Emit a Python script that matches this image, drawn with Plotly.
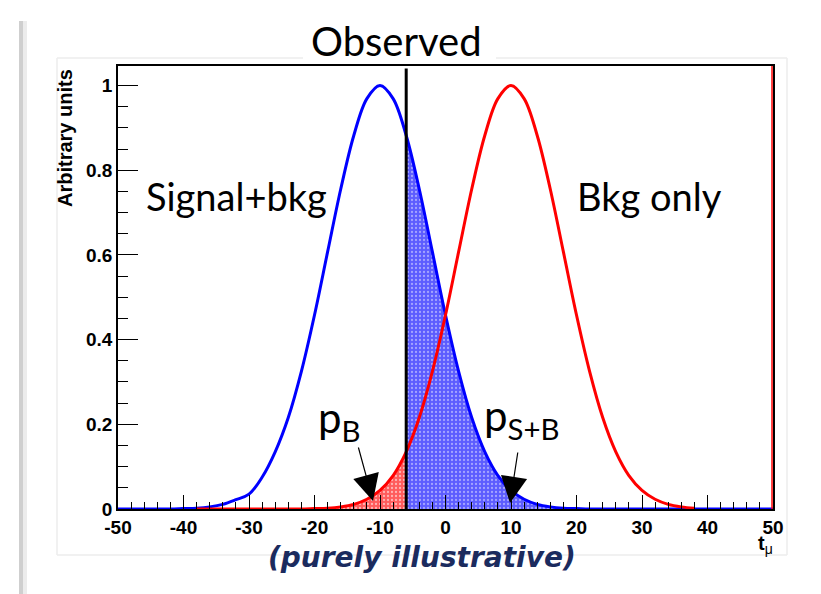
import plotly.graph_objects as go

# ---------------- data ----------------
x_grid = [-50, -48, -46, -44, -42, -40, -38, -36, -34, -32, -30, -28, -26, -24, -22, -20,
          -18, -16, -14, -12, -10, -8, -6, -4, -2, 0, 2, 4, 6, 8, 10, 12, 14, 16, 18, 20,
          22, 24, 26, 28, 30, 32, 34, 36, 38, 40, 42, 44, 46, 48, 50]
signal_bkg = [0.0, 0.0, 0.0, 0.0, 0.0, 0.001, 0.002, 0.005, 0.011, 0.022, 0.035, 0.075, 0.135,
              0.216, 0.325, 0.458, 0.607, 0.755, 0.882, 0.969, 1.0, 0.969, 0.882, 0.755, 0.607,
              0.458, 0.325, 0.216, 0.135, 0.079, 0.044, 0.023, 0.011, 0.005, 0.002, 0.001,
              0.0, 0.0, 0.0, 0.0, 0.0, 0.0, 0.0, 0.0, 0.0, 0.0, 0.0, 0.0, 0.0, 0.0, 0.0]
red_x = [-38, -36, -34, -32, -30, -28, -26, -24, -22, -20, -18, -16, -14, -12, -10, -8, -6,
         -4, -2, 0, 2, 4, 6, 8, 10, 12, 14, 16, 18, 20, 22, 24, 26, 28, 30, 32, 34, 36, 38]
bkg_only = [0.0, 0.0, 0.0, 0.0, 0.0, 0.0, 0.0, 0.0, 0.0, 0.001, 0.002, 0.005, 0.011, 0.023,
            0.044, 0.079, 0.135, 0.216, 0.325, 0.458, 0.607, 0.755, 0.882, 0.969, 1.0, 0.969,
            0.882, 0.755, 0.607, 0.458, 0.325, 0.216, 0.135, 0.079, 0.044, 0.023, 0.011,
            0.005, 0.002]
observed = -6
x_ticks = [-50, -40, -30, -20, -10, 0, 10, 20, 30, 40, 50]
x_tick_text = ["-50", "-40", "-30", "-20", "-10", "0", "10", "20", "30", "40", "50"]
y_ticks = [0, 0.2, 0.4, 0.6, 0.8, 1]
y_tick_text = ["0", "0.2", "0.4", "0.6", "0.8", "1"]

# ---------------- layout geometry helpers ----------------
L, R, T, B = 118, 773, 66, 509
W, H = R - L, B - T


def px(xp):
    return (xp - L) / W


def py(yp):
    return (B - yp) / H


fig = go.Figure()

# shaded areas
blue_fx = [x for x in x_grid if x >= observed]
blue_fy = [y for x, y in zip(x_grid, signal_bkg) if x >= observed]
red_fx = [x for x in red_x if x <= observed]
red_fy = [y for x, y in zip(red_x, bkg_only) if x <= observed]

fig.add_trace(go.Scatter(
    x=blue_fx, y=blue_fy, mode="none", fill="tozeroy", line_shape="spline",
    fillpattern=dict(shape=".", bgcolor="#5c5cff", fgcolor="#a4a4ff", size=4,
                     solidity=0.25, fillmode="replace"),
    hoverinfo="skip", showlegend=False))
fig.add_trace(go.Scatter(
    x=red_fx, y=red_fy, mode="none", fill="tozeroy", line_shape="spline",
    fillpattern=dict(shape=".", bgcolor="#ff5c5c", fgcolor="#ffb4b4", size=4,
                     solidity=0.25, fillmode="replace"),
    hoverinfo="skip", showlegend=False))

# curves
fig.add_trace(go.Scatter(x=x_grid, y=signal_bkg, mode="lines", line_shape="spline",
                         line=dict(color="#0000ff", width=3), showlegend=False))
fig.add_trace(go.Scatter(x=red_x, y=bkg_only, mode="lines", line_shape="spline",
                         line=dict(color="#ff0000", width=3), showlegend=False))

# observed line and red edge
fig.add_shape(type="line", x0=observed, x1=observed, y0=0, y1=1.04, xref="x", yref="y",
              line=dict(color="black", width=3), layer="above")
fig.add_shape(type="line", x0=49.85, x1=49.85, y0=0, y1=1.046, xref="x", yref="y",
              line=dict(color="#ff0000", width=1.5), layer="above")

# decorative slide elements (faint pad box, broken behind the title)
box = dict(xref="paper", yref="paper", line=dict(color="#ececec", width=1.5), layer="below")
for (a, b, c, d) in [(57, 58, 303, 58), (496, 58, 787, 58), (57, 58, 57, 555),
                     (787, 58, 787, 555), (57, 555, 787, 555)]:
    fig.add_shape(type="line", x0=px(a), y0=py(b), x1=px(c), y1=py(d), **box)
fig.add_shape(type="rect", x0=px(19), x1=px(23), y0=py(594), y1=py(21), xref="paper",
              yref="paper", line=dict(width=0), fillcolor="#cfcfcf", layer="below")
fig.add_shape(type="rect", x0=px(23), x1=px(27), y0=py(594), y1=py(21), xref="paper",
              yref="paper", line=dict(width=0), fillcolor="#ececec", layer="below")

gill = "Lato, 'Open Sans', sans-serif"
C = dict(xref="paper", yref="paper", showarrow=False, xanchor="center", yanchor="middle")
ann = []
ann.append(dict(text="Observed", x=px(396), y=py(41),
                font=dict(family=gill, size=40, color="black"), **C))
ann.append(dict(text="Signal+bkg", x=px(236), y=py(196),
                font=dict(family=gill, size=38, color="black"), **C))
ann.append(dict(text="Bkg only", x=px(649), y=py(196),
                font=dict(family=gill, size=38, color="black"), **C))
ann.append(dict(text="p<sub>B</sub>", x=px(339), y=py(420),
                font=dict(family=gill, size=42, color="black"), **C))
ann.append(dict(text="p<sub>S+B</sub>", x=px(522), y=py(418),
                font=dict(family=gill, size=42, color="black"), **C))
ann.append(dict(text="<b><i>(purely illustrative)</i></b>", x=px(422), y=py(557),
                font=dict(family="'DejaVu Sans', sans-serif", size=28, color="#1b2b5e"),
                **C))
ann.append(dict(text="<b>t</b><sub>μ</sub>", x=px(765), y=py(544),
                font=dict(family="'Liberation Sans', Arial", size=20, color="black"), **C))
ann.append(dict(text="<b>Arbitrary units</b>", x=px(65), y=py(67), xref="paper",
                yref="paper", showarrow=False, textangle=-90, xanchor="center",
                yanchor="top",
                font=dict(family="'Liberation Sans', Arial", size=20, color="black")))


def dx(xp):
    return (xp - L) / W * 100 - 50


def dy(yp):
    return (B - yp) / 423.5


# arrows
ann.append(dict(text="", x=dx(373), y=dy(501), ax=dx(358), ay=dy(446), xref="x", yref="y",
                axref="x", ayref="y", showarrow=True, arrowhead=2, arrowsize=4.4,
                arrowwidth=1.2, arrowcolor="black"))
ann.append(dict(text="", x=dx(510), y=dy(503), ax=dx(518), ay=dy(451), xref="x", yref="y",
                axref="x", ayref="y", showarrow=True, arrowhead=2, arrowsize=4.4,
                arrowwidth=1.2, arrowcolor="black"))

tickfont = dict(family="'Liberation Sans', Arial", size=19, color="black", weight="bold")

fig.update_layout(
    width=821, height=594,
    margin=dict(l=L, r=821 - R, t=T, b=594 - B),
    paper_bgcolor="white", plot_bgcolor="white",
    annotations=ann,
    xaxis=dict(range=[-50, 50], tickvals=x_ticks, ticktext=x_tick_text, ticks="inside",
               ticklen=14, tickwidth=1, tickcolor="black", showgrid=False, zeroline=False,
               showline=True, linecolor="black", linewidth=1.5, mirror=True,
               tickfont=tickfont, ticklabelstandoff=0,
               minor=dict(dtick=2, ticks="inside", ticklen=7, tickcolor="black",
                          tickwidth=1, showgrid=False)),
    yaxis=dict(range=[0, 1.046], tickvals=y_ticks, ticktext=y_tick_text, ticks="inside",
               ticklen=20, tickwidth=1, tickcolor="black", showgrid=False, zeroline=False,
               showline=True, linecolor="black", linewidth=1.5, mirror=True,
               tickfont=tickfont,
               minor=dict(dtick=0.05, tick0=0, ticks="inside", ticklen=10,
                          tickcolor="black", tickwidth=1, showgrid=False)),
)

fig.write_html("out.html")
